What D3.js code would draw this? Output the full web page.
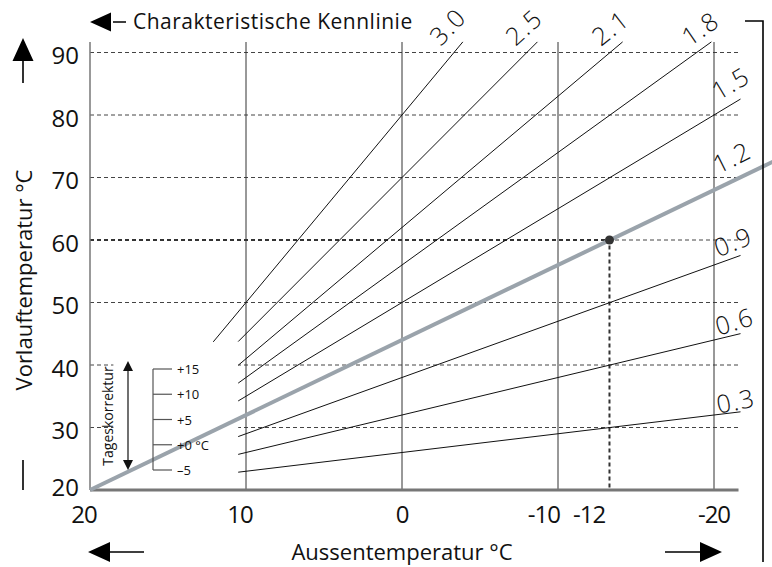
<!DOCTYPE html>
<html>
<head>
<meta charset="utf-8">
<script src="https://cdn.jsdelivr.net/npm/d3@7.9.0/dist/d3.min.js"></script>
<style>
  body { margin: 0; background: #fff; }
  svg { display: block; font-family: 'Open Sans', sans-serif; }
</style>
</head>
<body>
<script>
// Heizkennlinien: Vorlauf = 20 + k * (20 - Aussentemperatur)
const kennlinien = [0.3, 0.6, 0.9, 1.2, 1.5, 1.8, 2.1, 2.5, 3.0];
const kennlinienLabels = ['0.3', '0.6', '0.9', '1.2', '1.5', '1.8', '2.1', '2.5', '3.0'];
const startTemps = [10.5, 10.5, 10.5, 20, 10.5, 10.5, 10.5, 10.5, 12.1];
const highlighted = 1.2;

const xTicks = [20, 10, 0, -10, -12, -20];
const xGrid = [10, 0, -10, -20];
const yTicks = [20, 30, 40, 50, 60, 70, 80, 90];
const yGrid = [30, 40, 50, 60, 70, 80, 90];

const korrekturTicks = [15, 10, 5, 0, -5];
const korrekturLabels = ['+15', '+10', '+5', '+0 °C', '–5'];

const designTemp = -13.3;
const designFlow = 60;
const maxFlow = 91.7;
const minTemp = -21.7;

const width = 772;
const height = 567;

const svg = d3.select('body').append('svg')
  .attr('width', width)
  .attr('height', height);

const x = d3.scaleLinear().domain([20, -20]).range([90, 714]);
const y = d3.scaleLinear().domain([20, 90]).range([490, 52.5]);
const flow = (k, t) => 20 + k * (20 - t);

// horizontal dashed grid
svg.append('g')
  .selectAll('line')
  .data(yGrid)
  .join('line')
  .attr('x1', x(20))
  .attr('x2', x(minTemp))
  .attr('y1', (d) => y(d))
  .attr('y2', (d) => y(d))
  .attr('stroke', '#444')
  .attr('stroke-width', 1)
  .attr('stroke-dasharray', '4,3');

// vertical grid
svg.append('g')
  .selectAll('line')
  .data(xGrid)
  .join('line')
  .attr('x1', (d) => x(d))
  .attr('x2', (d) => x(d))
  .attr('y1', 42)
  .attr('y2', y(20))
  .attr('stroke', '#333')
  .attr('stroke-width', 1);

// white box behind the Tageskorrektur scale
svg.append('rect')
  .attr('x', x(18.5))
  .attr('y', y(41.5))
  .attr('width', x(10.5) - x(18.5))
  .attr('height', y(21.5) - y(41.5))
  .attr('fill', '#fff');

// design point reference lines
svg.append('path')
  .attr('d', `M${x(20)},${y(designFlow)}H${x(designTemp)}V${y(20)}`)
  .attr('fill', 'none')
  .attr('stroke', '#333')
  .attr('stroke-width', 2)
  .attr('stroke-dasharray', '4,3');

// axes
svg.append('line')
  .attr('x1', x(20)).attr('x2', x(20))
  .attr('y1', 42).attr('y2', y(20))
  .attr('stroke', '#777')
  .attr('stroke-width', 1.5);

svg.append('line')
  .attr('x1', x(20)).attr('x2', x(minTemp) - 2)
  .attr('y1', y(20)).attr('y2', y(20))
  .attr('stroke', '#777')
  .attr('stroke-width', 3);

svg.append('g')
  .selectAll('text')
  .data(yTicks)
  .join('text')
  .attr('x', 79)
  .attr('y', (d) => y(d) + (d === 20 ? -4 : 2))
  .attr('text-anchor', 'end')
  .attr('dominant-baseline', 'central')
  .attr('font-size', 24)
  .attr('fill', '#111')
  .text((d) => d);

svg.append('g')
  .selectAll('text')
  .data(xTicks)
  .join('text')
  .attr('x', (d) => x(d))
  .attr('y', y(20) + 33)
  .attr('text-anchor', (d) => (d === -10 ? 'end' : 'middle'))
  .attr('dx', (d) => (d === -10 ? 2 : d > 0 ? -6 : 0))
  .attr('font-size', 24)
  .attr('letter-spacing', -1)
  .attr('fill', '#111')
  .text((d) => d);

// Kennlinien
const line = d3.line()
  .x((d) => x(d[0]))
  .y((d) => y(d[1]));

const curves = kennlinien.map((k, i) => {
  const tTop = 20 - (maxFlow - 20) / k;
  const tLabel = Math.max(minTemp, tTop);
  const tEnd = k === highlighted ? -24 : tLabel;
  const angle = (Math.atan(k * 6.25 / 15.6) * 180) / Math.PI;
  return {
    k,
    label: kennlinienLabels[i],
    points: [[startTemps[i], flow(k, startTemps[i])], [tEnd, flow(k, tEnd)]],
    labelAt: [tLabel, flow(k, tLabel)],
    atTop: tTop > minTemp,
    angle: angle * 0.8 + 6,
  };
});

svg.append('g')
  .selectAll('path')
  .data(curves)
  .join('path')
  .attr('d', (d) => line(d.points))
  .attr('fill', 'none')
  .attr('stroke', (d) => (d.k === highlighted ? '#9aa3ab' : '#111'))
  .attr('stroke-width', (d) => (d.k === highlighted ? 4 : 1));

svg.append('circle')
  .attr('cx', x(designTemp))
  .attr('cy', y(designFlow))
  .attr('r', 4.5)
  .attr('fill', '#333');

svg.append('g')
  .selectAll('text')
  .data(curves)
  .join('text')
  .attr('transform', (d) => {
    const px = x(d.labelAt[0]) - 22;
    const py = y(d.labelAt[1]) + (d.k === highlighted ? -3 : d.atTop ? 5 : 2);
    return `translate(${px},${py}) rotate(${-d.angle})`;
  })
  .attr('font-weight', 300)
  .attr('font-size', 25)
  .attr('letter-spacing', 1.5)
  .attr('fill', '#111')
  .text((d) => d.label);

// Tageskorrektur
const kScale = d3.scaleLinear().domain([15, -5]).range([369, 470]);
const scaleX = 153;

svg.append('line')
  .attr('x1', scaleX).attr('x2', scaleX)
  .attr('y1', kScale(15)).attr('y2', kScale(-5))
  .attr('stroke', '#555')
  .attr('stroke-width', 1.2);

svg.append('g')
  .selectAll('line')
  .data(korrekturTicks)
  .join('line')
  .attr('x1', scaleX)
  .attr('x2', scaleX + 19)
  .attr('y1', (d) => kScale(d))
  .attr('y2', (d) => kScale(d))
  .attr('stroke', '#555')
  .attr('stroke-width', 1.2);

svg.append('g')
  .selectAll('text')
  .data(korrekturTicks)
  .join('text')
  .attr('x', scaleX + 24)
  .attr('y', (d) => kScale(d))
  .attr('dominant-baseline', 'central')
  .attr('font-size', 13)
  .attr('fill', '#111')
  .text((d, i) => korrekturLabels[i]);

svg.append('text')
  .attr('transform', `translate(113,${(362 + 470) / 2}) rotate(-90)`)
  .attr('text-anchor', 'middle')
  .attr('font-size', 14)
  .attr('fill', '#111')
  .text('Tageskorrektur');

svg.append('line')
  .attr('x1', 128).attr('x2', 128)
  .attr('y1', 370).attr('y2', 461)
  .attr('stroke', '#111')
  .attr('stroke-width', 1.2);

svg.append('path')
  .attr('d', 'M128,361L123,371H133Z M128,470L123,460H133Z')
  .attr('fill', '#111');

// arrows and titles
svg.append('path')
  .attr('d', 'M23,38L12.5,61H33.5Z M90,22L111,12.5V31.5Z M88,552L110,542V562Z M722,552L700,542V562Z')
  .attr('fill', '#000');

svg.append('path')
  .attr('d', 'M23,61V83 M113,22H126 M110,552H144 M665,552H700 M23,460V490 M745,21H763V562')
  .attr('fill', 'none')
  .attr('stroke', '#000')
  .attr('stroke-width', 1.6);

svg.append('text')
  .attr('x', 133)
  .attr('y', 29)
  .attr('font-size', 21)
  .attr('letter-spacing', 0.5)
  .attr('fill', '#111')
  .text('Charakteristische Kennlinie');

svg.append('text')
  .attr('transform', 'translate(32,280) rotate(-90)')
  .attr('text-anchor', 'middle')
  .attr('font-size', 22)
  .attr('fill', '#111')
  .text('Vorlauftemperatur °C');

svg.append('text')
  .attr('x', 402)
  .attr('y', 560)
  .attr('text-anchor', 'middle')
  .attr('font-size', 22)
  .attr('fill', '#111')
  .text('Aussentemperatur °C');
</script>
</body>
</html>
